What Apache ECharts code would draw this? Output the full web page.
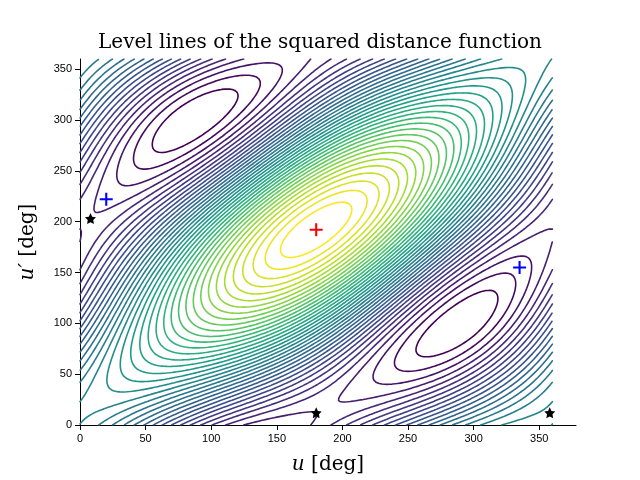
<!DOCTYPE html>
<html><head><meta charset="utf-8">
<script src="https://cdn.jsdelivr.net/npm/echarts@6/dist/echarts.min.js"></script>
<style>body{margin:0}#c{width:640px;height:480px}</style></head>
<body><div id="c"></div>
<script>
// field model: weights of the cosine terms and the location of the maximum
var weights = [1.0, 0.4, 0.06];
var centre = [180, 192];
var minPhase = 148;
var nLevels = 38;
var step = 2;
var saddles = [[20, 222], [335, 155]];
var maxPt = [[180, 192]];
var stars = [[8, 203], [180, 12], [358, 12]];
var viridis = ['#440154','#482878','#3e4989','#31688e','#26828e','#1f9e89','#35b779','#6ece58','#b5de2b','#fde725'];

var rad = Math.PI / 180;
function field(u, v) {
    var d = Math.cos((u - v - centre[0] + centre[1]) * rad);
    return weights[0] * d
        + weights[1] * (Math.cos((u - centre[0]) * rad) + Math.cos((v - centre[1]) * rad))
        + weights[2] * (1 - d) * Math.cos((u + v + minPhase) * rad);
}
function lerpColor(t) {
    var x = t * (viridis.length - 1), i = Math.min(Math.floor(x), viridis.length - 2), f = x - i;
    var a = viridis[i], b = viridis[i + 1];
    var c = [1, 3, 5].map(function (k) {
        var p = parseInt(a.substr(k, 2), 16), q = parseInt(b.substr(k, 2), 16);
        return Math.round(p + (q - p) * f);
    });
    return 'rgb(' + c.join(',') + ')';
}
var n = 360 / step + 1, grid = [], lo = Infinity, hi = -Infinity;
for (var i = 0; i < n; i++) {
    grid.push([]);
    for (var j = 0; j < n; j++) {
        var z = field(i * step, j * step);
        grid[i].push(z); lo = Math.min(lo, z); hi = Math.max(hi, z);
    }
}
var series = [];
for (var l = 1; l <= nLevels; l++) {
    var lev = lo + (hi - lo) * l / (nLevels + 1);
    var data = [];
    for (var i = 0; i < n - 1; i++) for (var j = 0; j < n - 1; j++) {
        var c = [[i, j], [i + 1, j], [i + 1, j + 1], [i, j + 1]], pts = [];
        for (var k = 0; k < 4; k++) {
            var p = c[k], q = c[(k + 1) % 4];
            var a = grid[p[0]][p[1]] - lev, b = grid[q[0]][q[1]] - lev;
            if ((a < 0) !== (b < 0)) {
                var t = a / (a - b);
                pts.push([(p[0] + (q[0] - p[0]) * t) * step, (p[1] + (q[1] - p[1]) * t) * step]);
            }
        }
        if (pts.length >= 2) data.push(pts[0], pts[1], null);
        if (pts.length === 4) data.push(pts[2], pts[3], null);
    }
    series.push({type: 'line', data: data, showSymbol: false, connectNulls: false, silent: true,
        lineStyle: {color: lerpColor((l - 1) / (nLevels - 1)), width: 1.6, cap: 'round'}});
}
var plus = 'path://M-1.6,-10 L1.6,-10 L1.6,-1.6 L10,-1.6 L10,1.6 L1.6,1.6 L1.6,10 L-1.6,10 L-1.6,1.6 L-10,1.6 L-10,-1.6 L-1.6,-1.6 Z';
var star = 'path://M0,-10 L2.9,-4 L9.5,-3.1 L4.7,1.5 L5.9,8.1 L0,5 L-5.9,8.1 L-4.7,1.5 L-9.5,-3.1 L-2.9,-4 Z';
series.push({type: 'scatter', data: saddles, symbol: plus, symbolSize: 13, itemStyle: {color: '#0000ff', opacity: 1}, z: 5});
series.push({type: 'scatter', data: maxPt, symbol: plus, symbolSize: 13, itemStyle: {color: '#ff0000', opacity: 1}, z: 5});
series.push({type: 'scatter', data: stars, symbol: star, symbolSize: 11, itemStyle: {color: '#000', opacity: 1}, z: 5});

var nameStyle = {fontFamily: 'DejaVu Serif', fontSize: 20, color: '#000',
    rich: {i: {fontFamily: 'DejaVu Serif', fontStyle: 'italic', fontSize: 20}}};
var chart = echarts.init(document.getElementById('c'));
chart.setOption({
    animation: false,
    title: {text: 'Level lines of the squared distance function', left: 'center', top: 28,
        textStyle: {fontFamily: 'DejaVu Serif', fontWeight: 'normal', fontSize: 20, color: '#000'}},
    grid: {left: 80, right: 64, top: 59, bottom: 53},
    xAxis: {type: 'value', min: 0, max: 378, interval: 50, name: '{i|u} [deg]', nameLocation: 'middle', nameGap: 30,
        nameTextStyle: nameStyle,
        axisLine: {lineStyle: {color: '#000'}}, splitLine: {show: false},
        axisLabel: {color: '#000', fontSize: 11, showMaxLabel: false}},
    yAxis: {type: 'value', min: 0, max: 360, interval: 50, name: "{i|u′} [deg]", nameLocation: 'middle', nameGap: 42,
        nameTextStyle: nameStyle,
        axisLine: {show: true, lineStyle: {color: '#000'}}, axisTick: {show: true}, splitLine: {show: false},
        axisLabel: {color: '#000', fontSize: 11}},
    series: series
});
</script></body></html>
